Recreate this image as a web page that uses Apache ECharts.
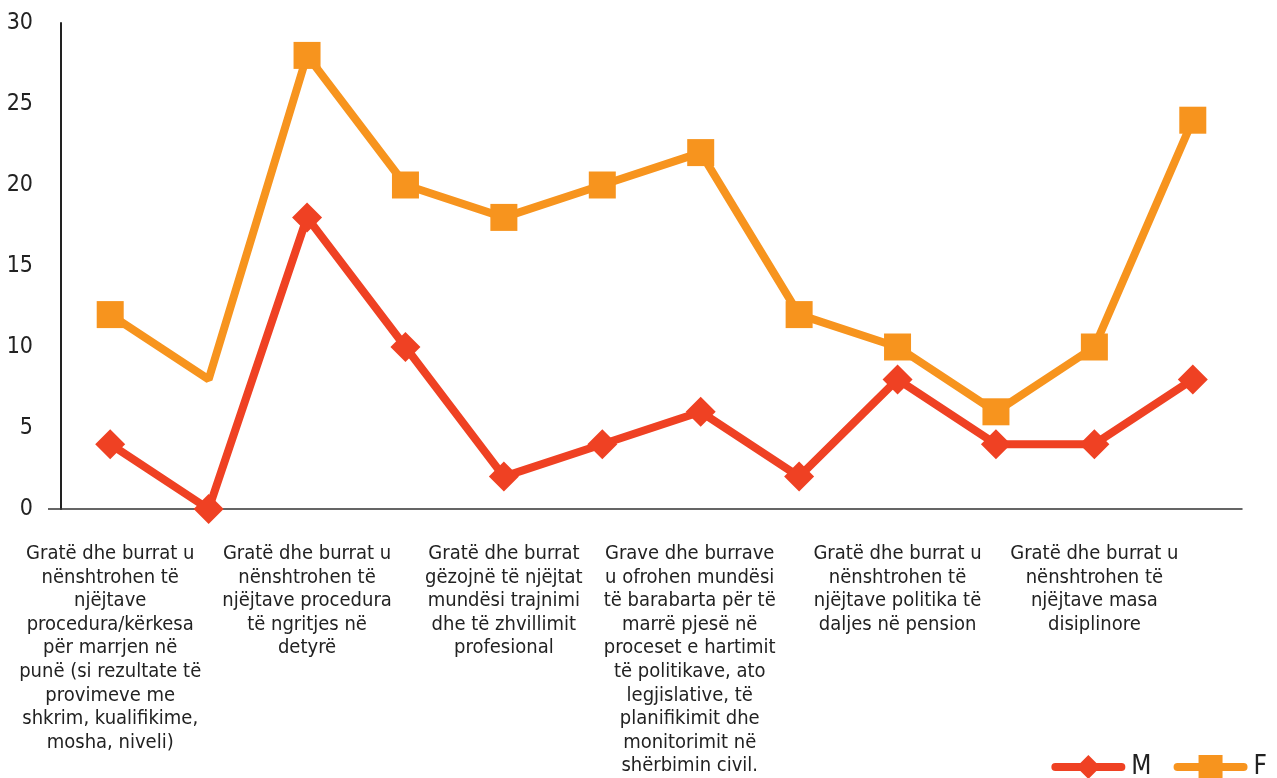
<!DOCTYPE html>
<html>
<head>
<meta charset="utf-8">
<script src="https://cdn.jsdelivr.net/npm/echarts@6/dist/echarts.min.js"></script>
<style>
  html, body { margin: 0; padding: 0; background: #fff; }
  #chart { width: 1277px; height: 778px; }
</style>
</head>
<body>
<div id="chart"></div>
<script>
// Survey statements (every other point carries a label)
const categories = [
  'Gratë dhe burrat u\nnënshtrohen të\nnjëjtave\nprocedura/kërkesa\npër marrjen në\npunë (si rezultate të\nprovimeve me\nshkrim, kualifikime,\nmosha, niveli)',
  '',
  'Gratë dhe burrat u\nnënshtrohen të\nnjëjtave procedura\ntë ngritjes në\ndetyrë',
  '',
  'Gratë dhe burrat\ngëzojnë të njëjtat\nmundësi trajnimi\ndhe të zhvillimit\nprofesional',
  '',
  'Grave dhe burrave\nu ofrohen mundësi\ntë barabarta për të\nmarrë pjesë në\nproceset e hartimit\ntë politikave, ato\nlegjislative, të\nplanifikimit dhe\nmonitorimit në\nshërbimin civil.',
  '',
  'Gratë dhe burrat u\nnënshtrohen të\nnjëjtave politika të\ndaljes në pension',
  '',
  'Gratë dhe burrat u\nnënshtrohen të\nnjëjtave masa\ndisiplinore',
  ''
];
const valuesM = [4, 0, 18, 10, 2, 4, 6, 2, 8, 4, 4, 8];
const valuesF = [12, 8, 28, 20, 18, 20, 22, 12, 10, 6, 10, 24];
const seriesNames = ['M', 'F'];
const yTicks = { min: 0, max: 30, interval: 5 };

const FONT = "'Liberation Sans Narrow', 'DejaVu Sans Condensed', 'Roboto Condensed', 'Liberation Sans', sans-serif";
const RED = '#ef4123';
const ORANGE = '#f7941e';

const chart = echarts.init(document.getElementById('chart'), null, { renderer: 'canvas' });

const xData = categories.map((c, i) => i === 6
  ? { value: c, textStyle: { padding: [0, 22, 0, 0] } }
  : c);

const fData = valuesF.map((v, i) => i === 1 ? { value: v, symbol: 'none' } : v);

chart.setOption({
  animation: false,
  backgroundColor: '#fff',
  textStyle: { fontFamily: FONT },
  grid: { left: 61, right: 35, top: 23, bottom: 268 },
  legend: {
    right: 5,
    top: 749,
    itemWidth: 66,
    itemHeight: 30,
    itemGap: 22,
    lineStyle: { width: 8, cap: 'round' },
    textStyle: { fontFamily: FONT, fontSize: 26, color: '#222', padding: [0, 0, 0, 5] },
    data: seriesNames
  },
  xAxis: {
    type: 'category',
    data: xData,
    boundaryGap: true,
    axisLine: { show: true, lineStyle: { color: '#333', width: 1.5 } },
    axisTick: { show: false },
    axisLabel: {
      interval: 0,
      margin: 33,
      fontFamily: FONT,
      fontSize: 20,
      lineHeight: 23.6,
      color: '#222',
      align: 'center',
      verticalAlign: 'top'
    },
    splitLine: { show: false }
  },
  yAxis: {
    type: 'value',
    min: yTicks.min,
    max: yTicks.max,
    interval: yTicks.interval,
    axisLine: { show: true, lineStyle: { color: '#222', width: 2 } },
    axisTick: { show: false },
    splitLine: { show: false },
    axisLabel: { fontFamily: FONT, fontSize: 23, color: '#222', margin: 28 }
  },
  series: [
    {
      name: seriesNames[0],
      type: 'line',
      data: valuesM,
      symbol: 'diamond',
      symbolSize: 30,
      color: RED,
      lineStyle: { width: 8, color: RED, cap: 'round' },
      itemStyle: { color: RED },
      z: 3
    },
    {
      name: seriesNames[1],
      type: 'line',
      data: fData,
      symbol: 'rect',
      symbolSize: 27,
      color: ORANGE,
      lineStyle: { width: 8, color: ORANGE, cap: 'round' },
      itemStyle: { color: ORANGE },
      z: 2
    }
  ]
});

// small overhang of the baseline to the left of the value axis
const zeroY = chart.convertToPixel({ yAxisIndex: 0 }, 0);
const axisX = chart.convertToPixel({ xAxisIndex: 0 }, 0) - 49;
chart.setOption({
  graphic: [{
    type: 'line',
    shape: { x1: 48, y1: zeroY, x2: axisX, y2: zeroY },
    style: { stroke: '#333', lineWidth: 1.5 },
    z: 1
  }]
});
</script>
</body>
</html>
